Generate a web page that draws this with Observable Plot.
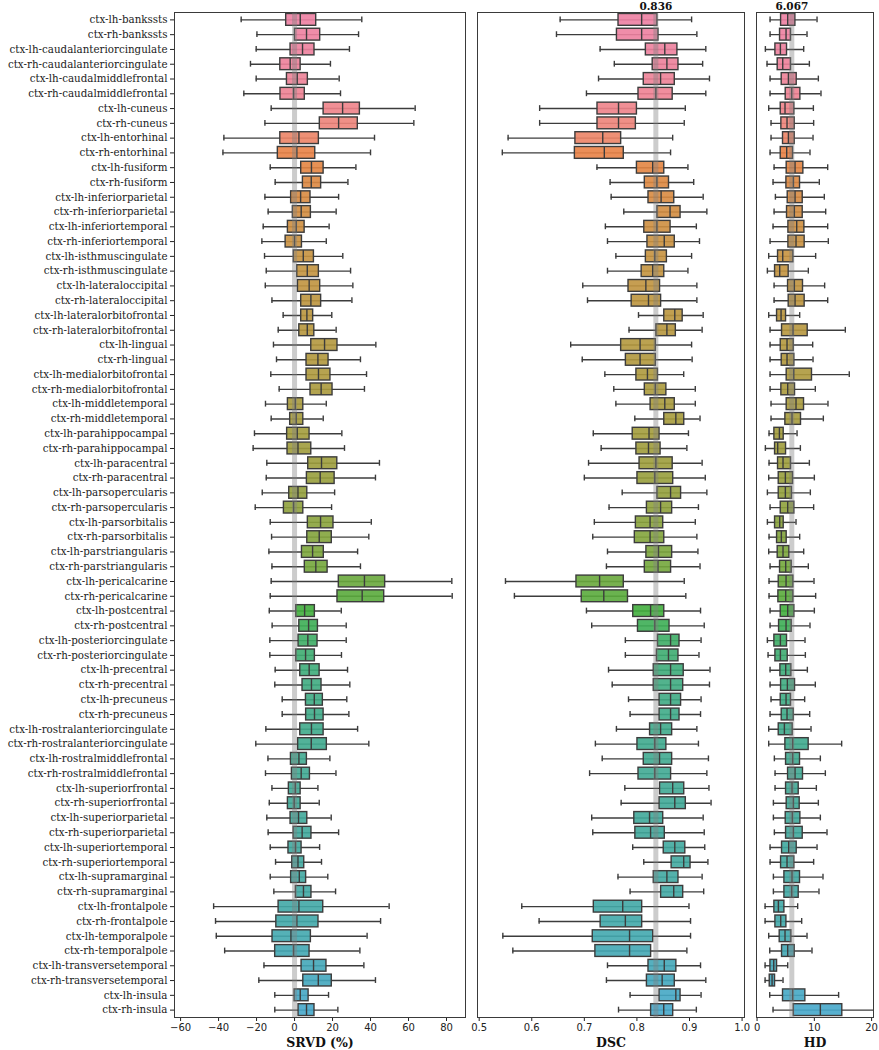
<!DOCTYPE html>
<html>
<head>
<meta charset="utf-8">
<script src="https://cdn.jsdelivr.net/npm/d3@7"></script>
<script src="https://cdn.jsdelivr.net/npm/@observablehq/plot@0.6"></script>
<style>
  html, body { margin: 0; padding: 0; background: #fff; }
  #wrap { position: relative; width: 879px; height: 1050px; overflow: hidden; }
  .panel { position: absolute; top: 0; }
  .panel svg { overflow: visible; background: transparent; max-width: none !important; }
  .panel g[aria-label="y-axis tick label"] { font-family: "DejaVu Serif", serif; font-size: 10.3px; }
</style>
</head>
<body>
<div id="wrap"></div>
<script>
// ---------------- data ----------------
const regions = [
  "ctx-lh-bankssts","ctx-rh-bankssts","ctx-lh-caudalanteriorcingulate","ctx-rh-caudalanteriorcingulate",
  "ctx-lh-caudalmiddlefrontal","ctx-rh-caudalmiddlefrontal","ctx-lh-cuneus","ctx-rh-cuneus",
  "ctx-lh-entorhinal","ctx-rh-entorhinal","ctx-lh-fusiform","ctx-rh-fusiform",
  "ctx-lh-inferiorparietal","ctx-rh-inferiorparietal","ctx-lh-inferiortemporal","ctx-rh-inferiortemporal",
  "ctx-lh-isthmuscingulate","ctx-rh-isthmuscingulate","ctx-lh-lateraloccipital","ctx-rh-lateraloccipital",
  "ctx-lh-lateralorbitofrontal","ctx-rh-lateralorbitofrontal","ctx-lh-lingual","ctx-rh-lingual",
  "ctx-lh-medialorbitofrontal","ctx-rh-medialorbitofrontal","ctx-lh-middletemporal","ctx-rh-middletemporal",
  "ctx-lh-parahippocampal","ctx-rh-parahippocampal","ctx-lh-paracentral","ctx-rh-paracentral",
  "ctx-lh-parsopercularis","ctx-rh-parsopercularis","ctx-lh-parsorbitalis","ctx-rh-parsorbitalis",
  "ctx-lh-parstriangularis","ctx-rh-parstriangularis","ctx-lh-pericalcarine","ctx-rh-pericalcarine",
  "ctx-lh-postcentral","ctx-rh-postcentral","ctx-lh-posteriorcingulate","ctx-rh-posteriorcingulate",
  "ctx-lh-precentral","ctx-rh-precentral","ctx-lh-precuneus","ctx-rh-precuneus",
  "ctx-lh-rostralanteriorcingulate","ctx-rh-rostralanteriorcingulate","ctx-lh-rostralmiddlefrontal","ctx-rh-rostralmiddlefrontal",
  "ctx-lh-superiorfrontal","ctx-rh-superiorfrontal","ctx-lh-superiorparietal","ctx-rh-superiorparietal",
  "ctx-lh-superiortemporal","ctx-rh-superiortemporal","ctx-lh-supramarginal","ctx-rh-supramarginal",
  "ctx-lh-frontalpole","ctx-rh-frontalpole","ctx-lh-temporalpole","ctx-rh-temporalpole",
  "ctx-lh-transversetemporal","ctx-rh-transversetemporal","ctx-lh-insula","ctx-rh-insula"
];

// [whisker low, Q1, median, Q3, whisker high]
const srvd = [
[-28.1,-4.4,3.0,11.4,35.4],[-19.8,0.2,6.3,13.5,33.7],[-20.2,-2.1,4.2,10.5,28.9],[-23.2,-7.5,-2.3,3.2,18.9],
[-20.2,-4.0,1.4,7.0,23.5],[-26.7,-7.4,-0.5,5.4,24.2],[-12.3,15.3,25.3,34.4,63.5],[-15.6,13.3,23.2,33.3,62.8],
[-37.2,-7.5,2.3,12.8,42.1],[-37.7,-8.8,1.2,10.9,40.0],[-12.8,3.5,8.9,15.3,32.3],[-10.2,4.4,8.8,14.0,28.1],
[-15.6,-1.8,3.2,8.4,23.2],[-13.9,-0.9,3.5,8.6,21.9],[-16.5,-3.5,0.9,5.3,18.2],[-17.2,-4.7,0.0,3.9,16.7],
[-15.8,-0.4,4.6,10.2,25.4],[-14.9,1.4,6.7,12.8,29.5],[-15.4,1.8,7.7,13.5,30.7],[-11.9,3.5,8.6,14.0,30.2],
[-6.0,3.5,6.5,9.8,19.6],[-8.6,2.5,6.7,10.4,21.9],[-11.1,8.8,15.8,22.6,42.8],[-9.5,6.3,12.3,17.9,34.7],
[-12.5,6.3,12.6,18.9,37.9],[-8.1,8.4,14.0,20.0,36.8],[-15.3,-3.5,0.4,4.6,16.7],[-12.3,-2.3,0.9,4.6,15.1],
[-21.1,-3.9,1.4,7.9,24.9],[-21.8,-3.7,1.8,8.8,26.3],[-14.6,7.2,14.2,22.5,44.7],[-14.9,6.5,13.5,21.1,42.6],
[-17.0,-2.8,1.8,6.7,21.1],[-20.7,-5.6,-0.5,4.6,19.5],[-12.8,7.0,13.7,20.5,40.4],[-12.1,6.7,13.0,19.6,39.1],
[-13.5,3.9,9.5,15.4,33.2],[-11.9,5.4,11.2,17.4,34.7],[-12.3,23.3,36.8,47.7,82.8],[-12.8,22.6,35.6,47.2,83.0],
[-13.3,0.9,5.3,10.7,24.6],[-11.8,2.5,7.4,12.3,27.2],[-13.0,2.1,7.0,12.1,27.2],[-13.0,0.9,5.8,10.7,24.7],
[-10.2,3.0,7.7,13.2,27.9],[-10.4,4.2,8.9,14.2,29.1],[-6.5,6.0,10.4,14.9,27.5],[-6.5,6.1,10.5,15.3,28.6],
[-15.1,3.0,8.9,15.3,33.2],[-20.4,1.9,8.8,17.0,39.1],[-14.0,-1.9,2.3,6.5,18.6],[-15.3,-1.4,3.5,8.1,21.8],
[-11.9,-3.0,0.4,3.2,12.3],[-13.3,-3.5,-0.2,3.2,13.0],[-14.6,-2.1,2.1,6.7,19.3],[-13.9,-0.5,4.0,8.9,23.2],
[-12.8,-3.2,0.5,3.7,13.2],[-10.0,-1.2,1.8,5.1,14.2],[-12.8,-1.8,2.5,6.1,17.5],[-10.9,0.7,4.7,8.9,21.6],
[-42.6,-8.4,2.3,15.1,49.8],[-41.6,-9.6,1.2,12.6,45.3],[-41.2,-11.6,-1.9,8.6,38.2],[-36.8,-10.2,-0.5,7.9,34.4],
[-16.1,3.7,10.0,16.8,36.5],[-18.8,4.6,12.5,19.6,42.6],[-10.4,0.0,3.0,7.4,17.9],[-10.4,2.1,6.3,10.5,22.8]
];

const dsc = [
[0.654,0.765,0.809,0.839,0.904],[0.647,0.762,0.809,0.841,0.914],[0.730,0.817,0.853,0.877,0.931],[0.757,0.830,0.857,0.879,0.925],
[0.727,0.813,0.845,0.872,0.938],[0.704,0.803,0.836,0.868,0.931],[0.615,0.725,0.765,0.800,0.892],[0.615,0.725,0.765,0.798,0.890],
[0.555,0.683,0.735,0.770,0.868],[0.544,0.682,0.738,0.775,0.864],[0.724,0.800,0.830,0.852,0.897],[0.749,0.815,0.838,0.861,0.908],
[0.751,0.822,0.846,0.871,0.926],[0.775,0.839,0.863,0.883,0.933],[0.740,0.814,0.838,0.864,0.913],[0.744,0.820,0.852,0.872,0.919],
[0.760,0.817,0.834,0.857,0.904],[0.744,0.809,0.830,0.852,0.897],[0.697,0.784,0.817,0.844,0.914],[0.706,0.790,0.822,0.846,0.914],
[0.803,0.852,0.872,0.887,0.926],[0.785,0.837,0.857,0.874,0.924],[0.674,0.770,0.806,0.836,0.904],[0.696,0.779,0.806,0.836,0.905],
[0.739,0.799,0.820,0.840,0.889],[0.756,0.815,0.835,0.856,0.911],[0.760,0.826,0.853,0.872,0.911],[0.796,0.852,0.874,0.890,0.920],
[0.717,0.792,0.823,0.843,0.898],[0.732,0.799,0.822,0.845,0.895],[0.708,0.805,0.836,0.868,0.924],[0.700,0.801,0.834,0.869,0.930],
[0.772,0.839,0.864,0.884,0.933],[0.747,0.819,0.845,0.867,0.917],[0.719,0.798,0.825,0.850,0.911],[0.716,0.796,0.825,0.852,0.914],
[0.744,0.818,0.841,0.867,0.916],[0.742,0.815,0.840,0.865,0.920],[0.550,0.685,0.729,0.775,0.890],[0.567,0.695,0.737,0.783,0.893],
[0.704,0.793,0.826,0.852,0.921],[0.714,0.802,0.834,0.862,0.928],[0.778,0.840,0.864,0.881,0.922],[0.778,0.838,0.860,0.879,0.918],
[0.746,0.832,0.864,0.889,0.939],[0.753,0.832,0.864,0.888,0.938],[0.784,0.843,0.864,0.884,0.922],[0.787,0.843,0.864,0.881,0.921],
[0.761,0.825,0.845,0.867,0.914],[0.721,0.801,0.834,0.856,0.917],[0.734,0.813,0.843,0.867,0.936],[0.710,0.803,0.834,0.865,0.933],
[0.777,0.844,0.868,0.890,0.937],[0.770,0.843,0.872,0.893,0.941],[0.714,0.795,0.824,0.850,0.926],[0.716,0.797,0.826,0.853,0.928],
[0.792,0.851,0.872,0.892,0.929],[0.813,0.866,0.889,0.902,0.935],[0.764,0.832,0.857,0.879,0.924],[0.787,0.846,0.870,0.888,0.927],
[0.581,0.718,0.773,0.810,0.899],[0.614,0.731,0.778,0.810,0.902],[0.545,0.716,0.786,0.831,0.902],[0.564,0.721,0.786,0.827,0.895],
[0.744,0.822,0.852,0.875,0.921],[0.742,0.819,0.848,0.872,0.931],[0.787,0.843,0.874,0.883,0.922],[0.765,0.827,0.851,0.869,0.913]
];

const hd = [
[2.27,4.19,5.35,6.69,10.47],[2.27,4.01,5.06,5.93,8.72],[1.45,3.20,4.07,5.23,8.14],[1.74,3.60,4.48,5.93,9.13],
[2.27,4.30,5.47,6.92,10.70],[2.27,5.00,6.05,7.56,11.16],[2.03,4.13,4.88,6.51,9.83],[2.44,4.24,5.23,6.57,9.88],
[2.44,4.53,5.47,6.57,9.77],[2.27,4.13,5.17,6.28,9.24],[2.97,5.17,6.63,8.08,12.33],[2.79,5.12,6.34,7.50,10.87],
[3.20,5.35,6.63,7.97,11.74],[2.97,5.23,6.51,7.97,11.98],[2.79,5.47,6.92,8.26,12.33],[2.27,5.47,6.80,8.31,12.44],
[2.03,3.66,4.48,6.34,10.23],[1.80,3.14,3.95,5.52,8.95],[2.97,5.41,6.51,8.02,11.80],[2.97,5.52,6.63,8.31,12.33],
[2.03,3.49,4.19,5.06,7.44],[2.27,4.36,6.28,8.84,15.41],[2.27,4.13,5.23,6.40,9.71],[2.27,4.30,5.23,6.51,9.77],
[2.27,5.17,6.40,9.59,16.10],[2.27,4.24,5.35,6.63,10.17],[2.44,5.17,6.80,8.20,12.38],[2.44,4.94,6.10,7.67,11.57],
[2.09,3.02,3.90,4.65,6.98],[1.45,3.14,3.60,5.06,7.56],[2.09,3.66,4.53,5.93,9.13],[2.03,3.78,4.94,6.28,10.00],
[1.80,3.78,4.94,6.10,9.30],[2.27,4.13,5.35,6.51,9.88],[1.80,3.14,3.95,4.65,6.80],[2.09,3.49,4.24,5.17,7.44],
[2.03,3.60,4.53,5.64,8.14],[2.27,4.01,5.00,6.05,8.95],[2.09,3.78,5.06,6.34,9.94],[2.09,3.72,5.00,6.34,10.23],
[2.27,4.13,5.35,6.51,10.00],[2.27,3.84,5.06,6.05,9.24],[1.80,3.02,4.07,5.23,8.37],[1.92,3.20,4.07,5.35,8.43],
[2.27,4.07,5.00,5.99,8.78],[2.27,4.19,5.29,6.63,10.17],[2.44,4.13,5.06,5.93,8.31],[2.27,4.30,5.23,6.40,9.19],
[2.03,3.78,4.77,6.22,9.42],[2.03,4.94,6.22,9.01,14.77],[3.02,5.06,6.22,7.50,11.05],[3.14,5.41,6.63,8.02,11.92],
[3.14,5.06,6.10,7.27,10.35],[2.85,5.17,6.34,7.44,10.70],[2.85,5.00,6.16,7.56,11.05],[3.02,5.06,6.34,7.97,12.21],
[2.27,4.36,5.52,6.92,10.47],[2.27,4.19,5.23,6.51,9.88],[2.85,4.77,6.10,7.50,11.51],[2.85,4.77,6.05,7.27,10.81],
[1.40,3.02,3.72,4.77,7.09],[1.40,3.20,4.13,5.12,7.79],[2.03,3.95,4.88,5.99,8.72],[2.21,4.36,5.35,6.57,9.59],
[1.40,2.33,2.91,3.49,5.35],[1.40,2.21,2.62,3.14,4.53],[2.21,4.53,6.22,8.43,14.24],[2.79,6.40,11.05,14.88,20.40]
];

const means = { srvd: 0, dsc: 0.836, hd: 6.067 };
const meanLabels = { srvd: "", dsc: "0.836", hd: "6.067" };
const srvdTicks = [-60, -40, -20, 0, 20, 40, 60, 80];
const dscTicks = [0.5, 0.6, 0.7, 0.8, 0.9, 1.0];
const hdTicks = [0, 10, 20];

// ---------------- colours (husl-like palette) ----------------
const M = [[3.240969941904521,-1.537383177570093,-0.498610760293],
           [-0.96924363628087,1.87596750150772,0.041555057407175],
           [0.055630079696993,-0.20397695888897,1.056971514242878]];
const refU = 0.19783000664283, refV = 0.46831999493879, kappa = 903.2962962, eps = 0.0088564516;
function bounds(L) {
  const s1 = Math.pow(L + 16, 3) / 1560896, s2 = s1 > eps ? s1 : L / kappa, out = [];
  for (const [m1, m2, m3] of M) for (let t = 0; t < 2; t++) {
    const top1 = (284517 * m1 - 94839 * m3) * s2;
    const top2 = (838422 * m3 + 769860 * m2 + 731718 * m1) * L * s2 - 769860 * t * L;
    const bot = (632260 * m3 - 126452 * m2) * s2 + 126452 * t;
    out.push([top1 / bot, top2 / bot]);
  }
  return out;
}
function maxChroma(L, H) {
  const hr = H / 360 * 2 * Math.PI; let mn = Infinity;
  for (const [sl, ic] of bounds(L)) { const len = ic / (Math.sin(hr) - sl * Math.cos(hr)); if (len >= 0) mn = Math.min(mn, len); }
  return mn;
}
function husl(H, S, L) {
  const C = maxChroma(L, H) / 100 * S, hr = H / 360 * 2 * Math.PI;
  const U = Math.cos(hr) * C, V = Math.sin(hr) * C;
  const vu = U / (13 * L) + refU, vv = V / (13 * L) + refV;
  const Y = L <= 8 ? L / kappa : Math.pow((L + 16) / 116, 3);
  const X = -(9 * Y * vu) / ((vu - 4) * vv - vu * vv);
  const Z = (9 * Y - 15 * vv * Y - vv * X) / (3 * vv);
  const f = c => { c = c <= 0.0031308 ? 12.92 * c : 1.055 * Math.pow(c, 1 / 2.4) - 0.055; return Math.max(0, Math.min(1, c)); };
  return M.map(r => f(r[0] * X + r[1] * Y + r[2] * Z) * 255);
}
const hueOfRow = d3.scaleLinear()
  .domain([0, 5, 7, 9, 16, 30, 38, 45, 60, 67])
  .range([-5, 4, 16, 28, 50, 86, 118, 150, 190, 228]);
function rowColor(i) {
  const [r, g, b] = husl(hueOfRow(i), 89.1, 66);
  const c = d3.hsl(d3.rgb(r, g, b));
  c.s *= 0.85;
  return c.formatHex();
}

function rowsOf(arr) {
  return regions.map((name, i) => ({
    name, min: arr[i][0], q1: arr[i][1], med: arr[i][2], q3: arr[i][3], max: arr[i][4], color: rowColor(i)
  }));
}

const lineColor = "#3c3c3c";

function panel({arr, domain, ticks, fmt, left, width, mL, mR, title, mean, meanLabel, showY}) {
  const rows = rowsOf(arr);
  const marks = [
    Plot.ruleY(rows, {y: "name", x1: "min", x2: "max", stroke: lineColor, strokeWidth: 1.4, clip: true}),
    Plot.tickX(rows, {y: "name", x: "min", stroke: lineColor, strokeWidth: 1.4, insetTop: 3, insetBottom: 3, clip: true}),
    Plot.tickX(rows, {y: "name", x: "max", stroke: lineColor, strokeWidth: 1.4, insetTop: 3, insetBottom: 3, clip: true}),
    Plot.barX(rows, {y: "name", x1: "q1", x2: "q3", fill: "color", fillOpacity: 0.9, stroke: lineColor, strokeWidth: 1.4, clip: true}),
    Plot.tickX(rows, {y: "name", x: "med", stroke: lineColor, strokeWidth: 1.4, clip: true}),
    Plot.ruleX([mean], {x: d => d, stroke: "#808080", strokeWidth: 5, strokeOpacity: 0.4}),
    Plot.frame({stroke: "#3a3a3a", strokeWidth: 1}),
    Plot.text([title], {text: d => d, frameAnchor: "bottom", lineAnchor: "middle", dy: 25,
      fontFamily: "DejaVu Serif", fontWeight: "bold", fontSize: 12.5, fill: "#111"})
  ];
  if (meanLabel) marks.push(Plot.text([mean], {x: d => d, text: () => meanLabel, frameAnchor: "top", lineAnchor: "bottom", dy: -3,
      fontFamily: "DejaVu Serif", fontWeight: "bold", fontSize: 10.5, fill: "#111"}));
  const chart = Plot.plot({
    width, height: 1050,
    marginLeft: mL, marginRight: mR, marginTop: 12, marginBottom: 33,
    style: {fontFamily: "DejaVu Sans", fontSize: "10px", color: "#222", background: "transparent", overflow: "visible"},
    color: {type: "identity"},
    x: {domain, ticks, tickFormat: fmt, tickSize: 4, tickPadding: 2, label: null},
    y: {type: "band", domain: regions, paddingInner: 0.2, paddingOuter: 0.1, align: 0.5,
        axis: showY ? "left" : null, tickSize: 4, tickPadding: 3, label: null},
    marks
  });
  const div = document.createElement("div");
  div.className = "panel";
  div.style.left = left + "px";
  div.style.width = width + "px";
  div.appendChild(chart);
  document.getElementById("wrap").appendChild(div);
}

panel({arr: srvd, domain: [-63.2, 90], ticks: srvdTicks, fmt: d => d3.format("")(d).replace("-", "\u2212"),
  left: 0, width: 466, mL: 174, mR: 1, title: "SRVD (%)", mean: means.srvd, meanLabel: meanLabels.srvd, showY: true});
panel({arr: dsc, domain: [0.4968, 1.0046], ticks: dscTicks, fmt: d3.format(".1f"),
  left: 467, width: 287, mL: 10, mR: 10, title: "DSC", mean: means.dsc, meanLabel: meanLabels.dsc, showY: false});
panel({arr: hd, domain: [-0.1, 20.33], ticks: hdTicks, fmt: d3.format("d"),
  left: 746, width: 137, mL: 10, mR: 10, title: "HD", mean: means.hd, meanLabel: meanLabels.hd, showY: false});
</script>
</body>
</html>
